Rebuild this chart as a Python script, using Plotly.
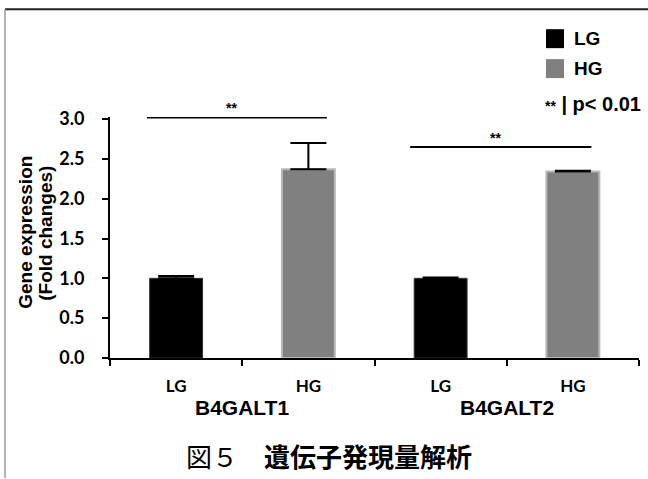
import plotly.graph_objects as go

# ---- data ----
positions = [0, 1, 2, 3]
tick_labels = ["LG", "HG", "LG", "HG"]
y_ticks = [0, 0.5, 1.0, 1.5, 2.0, 2.5, 3.0]
y_tick_labels = ["0.0", "0.5", "1.0", "1.5", "2.0", "2.5", "3.0"]
groups = ["B4GALT1", "B4GALT2"]
lg_x = [0, 2]
hg_x = [1, 3]
lg_values = [1.00, 1.00]
hg_values = [2.37, 2.34]
lg_err = [0.03, 0.01]
hg_err = [0.33, 0.01]
sig_lines = [(-0.22, 1.14, 3.02), (1.77, 3.14, 2.65)]
sig_text_y = [3.14, 2.76]

Y_MAX = 3.025
W, H = 529.0, 241.5


def px(x):
    return (x - 110) / W


def py(y):
    return (358.5 - y) / H


fig = go.Figure()
fig.add_trace(go.Bar(
    x=lg_x, y=lg_values, width=0.4, name="LG",
    marker=dict(color="#000000", line=dict(color="#333333", width=1)),
    error_y=dict(type="data", array=lg_err, arrayminus=[0, 0], symmetric=False,
                 color="#000000", thickness=2, width=18),
    showlegend=False,
))
fig.add_trace(go.Bar(
    x=hg_x, y=hg_values, width=0.4, name="HG",
    marker=dict(color="#808080", line=dict(color="#b8b8b8", width=2)),
    error_y=dict(type="data", array=hg_err, arrayminus=[0, 0], symmetric=False,
                 color="#000000", thickness=2, width=18),
    showlegend=False,
))

shapes = []
annotations = []
# significance brackets
for (x0, x1, yv), ty in zip(sig_lines, sig_text_y):
    shapes.append(dict(type="line", xref="x", yref="y", x0=x0, x1=x1, y0=yv, y1=yv,
                       line=dict(color="#000000", width=2)))
    annotations.append(dict(xref="x", yref="paper", x=(x0 + x1) / 2 - 0.04, y=ty / Y_MAX,
                            text="<b>**</b>", showarrow=False, yanchor="middle",
                            font=dict(family="Liberation Sans", size=14, color="#000")))

# group labels
for i, g in enumerate(groups):
    annotations.append(dict(xref="x", yref="paper", x=2 * i + 0.5, y=py(408),
                            text="<b>%s</b>" % g, showarrow=False, yanchor="middle",
                            font=dict(family="Liberation Sans", size=21, color="#000")))

# axis title (two lines)
annotations.append(dict(xref="paper", yref="paper", x=px(26), y=py(233), text="<b>Gene expression</b>",
                        textangle=-90, showarrow=False, xanchor="center", yanchor="middle",
                        font=dict(family="Liberation Sans", size=19, color="#000")))
annotations.append(dict(xref="paper", yref="paper", x=px(46), y=py(234), text="<b>(Fold changes)</b>",
                        textangle=-90, showarrow=False, xanchor="center", yanchor="middle",
                        font=dict(family="Liberation Sans", size=19, color="#000")))

# legend (drawn)
legend_items = [("LG", "#000000", 38.5), ("HG", "#808080", 68.5)]
for name, col, cy in legend_items:
    shapes.append(dict(type="rect", xref="paper", yref="paper",
                       x0=px(546), x1=px(564), y0=py(cy - 9.5), y1=py(cy + 9.5),
                       fillcolor=col, line=dict(width=0)))
    annotations.append(dict(xref="paper", yref="paper", x=px(572), y=py(cy), text="<b>%s</b>" % name,
                            showarrow=False, xanchor="left", yanchor="middle",
                            font=dict(family="Liberation Sans", size=19, color="#000")))
annotations.append(dict(xref="paper", yref="paper", x=px(543), y=py(104),
                        text="<b><span style='font-size:14px'>**</span> | p< 0.01</b>",
                        showarrow=False, xanchor="left", yanchor="middle",
                        font=dict(family="Liberation Sans", size=20, color="#000")))

# caption
annotations.append(dict(xref="paper", yref="paper", x=px(329), y=py(456),
                        text="図５　<b>遺伝子発現量解析</b>", showarrow=False,
                        xanchor="center", yanchor="middle",
                        font=dict(family="Noto Sans CJK JP", size=26, color="#000")))

# frame lines
shapes.append(dict(type="line", xref="paper", yref="paper", x0=px(5), x1=px(648), y0=py(9), y1=py(9),
                   line=dict(color="#222222", width=2)))
shapes.append(dict(type="line", xref="paper", yref="paper", x0=px(5), x1=px(5), y0=py(9), y1=py(479),
                   line=dict(color="#9a9a9a", width=1.5)))

fig.update_layout(
    width=648, height=479,
    margin=dict(l=110, r=9, t=117, b=120.5),
    paper_bgcolor="white", plot_bgcolor="white",
    barmode="overlay",
    shapes=shapes, annotations=annotations,
    xaxis=dict(range=[-0.5, 3.5], tickvals=positions,
               ticktext=["<b>%s</b>" % t for t in tick_labels],
               ticks="", showline=True, linecolor="#000", linewidth=2,
               showgrid=False, zeroline=False, ticklabelstandoff=12,
               tickfont=dict(family="Lato", size=17, color="#000"),
               minor=dict(tickvals=[-0.5, 0.5, 1.5, 2.5, 3.5], ticks="outside",
                          ticklen=6, tickwidth=2, tickcolor="#000")),
    yaxis=dict(range=[0, Y_MAX], tickvals=y_ticks,
               ticktext=["<b>%s</b>" % t for t in y_tick_labels],
               ticks="outside", ticklen=6, tickwidth=2, tickcolor="#000",
               showline=True, linecolor="#000", linewidth=2,
               showgrid=False, zeroline=False, ticklabelstandoff=14,
               tickfont=dict(family="Lato", size=18, color="#000")),
)

fig.write_html("out.html", config={"displayModeBar": False},
               post_script="document.body.style.margin='0';")
